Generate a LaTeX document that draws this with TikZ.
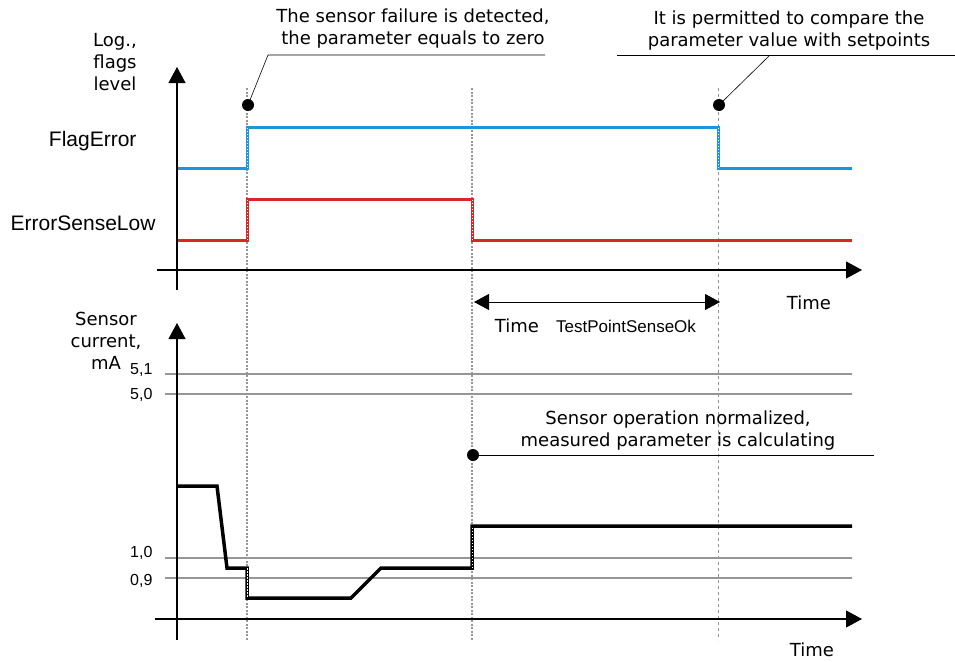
\documentclass[tikz,border=0pt]{standalone}
\usepackage{fontspec}
\setmainfont{DejaVu Sans}
\newfontfamily\arialfont{Liberation Sans}
\usetikzlibrary{arrows.meta}
\definecolor{flagblue}{RGB}{27,150,220}
\definecolor{sensered}{RGB}{215,40,40}
\definecolor{levelgray}{RGB}{150,150,150}
\tikzset{
	axis/.style={line width=1.1pt, -{Triangle[length=16pt,width=17pt]}},
	marker/.style={levelgray, dash pattern=on 2pt off 1.5pt, line width=1.4pt},
	level/.style={levelgray, line width=2.5pt},
	trace/.style={line width=3pt},
	edge/.style={white, line width=0.8pt, dash pattern=on 1.5pt off 1.5pt},
	callout/.style={line width=0.6pt},
	dot/.style={circle, fill=black, inner sep=0pt, minimum size=12pt},
	txt/.style={font=\fontsize{18}{22}\selectfont, align=center},
	lbl/.style={font=\arialfont\fontsize{21}{25}\selectfont, anchor=east},
	val/.style={font=\arialfont\fontsize{16}{18}\selectfont, anchor=east},
}
\begin{document}
\begin{tikzpicture}[x=1pt, y=-1pt]
	\useasboundingbox (0,0) rectangle (955,661);
	% threshold levels
	\draw[level] (165,374)--(852,374);
	\draw[level] (165,394)--(852,394);
	\draw[level] (165,558)--(852,558);
	\draw[level] (165,578)--(852,578);
	\node[val] (v51) at (156,370) {5,1};
	\node[val] (v50) at (156,395) {5,0};
	\node[val] (v10) at (156,553) {1,0};
	\node[val] (v09) at (156,581) {0,9};
	% event markers
	\draw[marker] (247,88)--(247,640);
	\draw[marker] (472,88)--(472,640);
	\draw[marker, dash pattern=on 3pt off 3pt, line width=0.8pt] (718,88)--(718,640);
	% flags
	\draw[trace, flagblue] (177,168)--(247,168)--(247,127)--(718,127)--(718,168)--(852,168);
	\draw[trace, sensered] (177,240)--(247,240)--(247,199)--(472,199)--(472,240)--(852,240);
	% sensor current
	\draw[trace, line width=3.5pt] (177,486)--(217,486)--(227,568)--(247,568)--(247,598)--(351,598)
		--(381,568)--(472,568)--(472,526)--(852,526);
	\draw[edge] (247,168)--(247,127);
	\draw[edge] (718,168)--(718,127);
	\draw[edge] (247,240)--(247,199);
	\draw[edge] (472,240)--(472,199);
	\draw[edge] (247,568)--(247,598);
	\draw[edge] (472,568)--(472,526);
	% axes
	\draw[axis] (177,290)--(177,67);
	\draw[axis] (157,270)--(862,270);
	\draw[axis] (177,640)--(177,323);
	\draw[axis] (155,619)--(862,619);
	\node[txt] (ylog) at (115,62) {Log.,\\flags\\level};
	\node[txt] (ysens) at (106,341) {Sensor\\current,\\mA};
	\node[lbl] (flag) at (140,141) {FlagError};
	\node[lbl] (esl) at (159,223) {ErrorSenseLow};
	\node[txt] (time1) at (809,303) {Time};
	\node[txt] (time2) at (812,650) {Time};
	% interval
	\draw[line width=0.9pt, {Triangle[length=15pt,width=16pt]}-{Triangle[length=15pt,width=16pt]}] (474,302)--(720,302);
	\node[txt] (tint) at (517,326) {Time};
	\node[font=\arialfont\fontsize{17}{20}\selectfont] (tpso) at (626,326) {TestPointSenseOk};
	% callouts
	\node[dot] (d1) at (248,105) {};
	\node[dot] (d2) at (719,105) {};
	\node[dot] (d3) at (473,455) {};
	\coordinate (c1) at (268,55);
	\coordinate (c1e) at (545,55);
	\coordinate (c2) at (770,55);
	\coordinate (c2s) at (617,55);
	\coordinate (c2e) at (955,55);
	\coordinate (c3e) at (874,455);
	\draw[callout] (d1.center)--(c1)--(c1e);
	\draw[callout] (d2.center)--(c2);
	\draw[callout] (c2s)--(c2e);
	\draw[callout] (d3.center)--(c3e);
	\node[txt] (note1) at (413,29) {The sensor failure is detected,\\the parameter equals to zero};
	\node[txt] (note2) at (789,31) {It is permitted to compare the\\parameter value with setpoints};
	\node[txt] (note3) at (678,431) {Sensor operation normalized,\\measured parameter is calculating};
\end{tikzpicture}
\end{document}
